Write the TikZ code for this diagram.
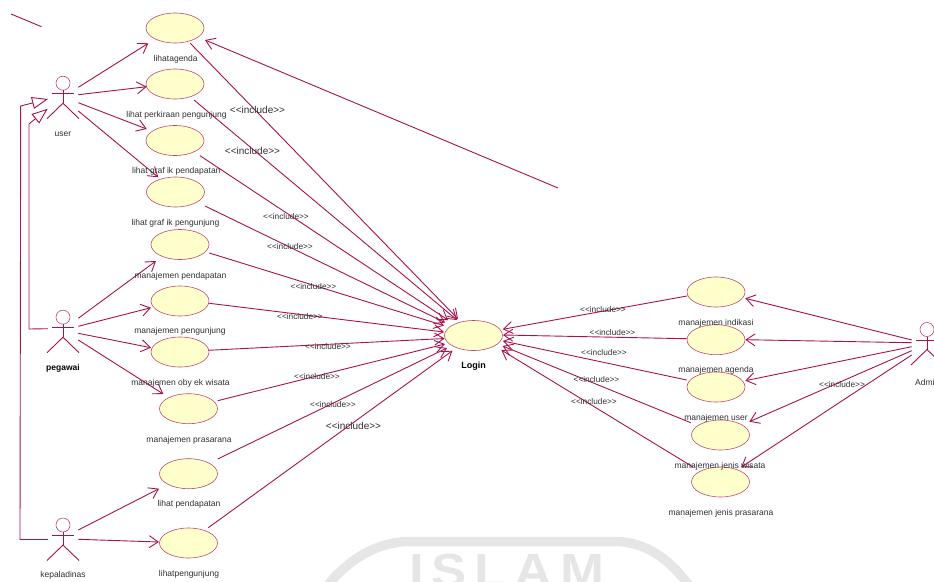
\documentclass[tikz,border=0pt]{standalone}
\usepackage{fontspec}
\setmainfont{Liberation Sans}
\usetikzlibrary{arrows.meta,shapes.geometric}
\definecolor{umlline}{HTML}{A8134C}
\definecolor{umledge}{HTML}{C4476E}
\definecolor{umlfill}{HTML}{FFFFCB}
\definecolor{umltext}{HTML}{303030}
\definecolor{wm}{HTML}{E6E6E6}
\tikzset{
  usecase/.style={ellipse,draw=umledge,fill=umlfill,line width=0.6pt,minimum width=58pt,minimum height=30pt,inner sep=0pt},
  actorpt/.style={inner sep=0pt,minimum size=0pt,outer sep=0pt},
  lbl/.style={text=umltext,font=\fontsize{8.5}{10}\selectfont,inner sep=0pt},
  lblb/.style={text=black,font=\fontsize{8.5}{10}\selectfont\bfseries,inner sep=0pt},
  inc/.style={text=umltext,font=\fontsize{8.3}{10}\selectfont,inner sep=0pt},
  incl/.style={text=umltext,font=\fontsize{10}{12}\selectfont,inner sep=0pt},
  assoc/.style={draw=umlline,line width=0.9pt,-{Straight Barb[length=9pt,width=12pt]}},
  gen/.style={draw=umlline,line width=0.9pt,-{Triangle[open,fill=white,length=16pt,width=12pt]}},
  plain/.style={draw=umlline,line width=0.9pt},
  actorline/.style={draw=umlline,line width=0.9pt},
  actorhead/.style={draw=umledge,line width=0.6pt}
}
\newcommand\lnk[7]{\draw[#1] ([shift={(#3,#4)}]#2.center) -- ([shift={(#6,#7)}]#5.center);}
\newcommand\figactor[3]{%
  \node[actorpt] (#1) at (#2,#3) {};
  \draw[actorhead] ([shift={(0,-10.5)}]#1.center) circle[radius=7pt];
  \draw[actorline] ([shift={(-11,0)}]#1.center) -- ([shift={(11,0)}]#1.center);
  \draw[actorline] ([shift={(0,-3.5)}]#1.center) -- ([shift={(0,9.5)}]#1.center);
  \draw[actorline] ([shift={(-16,25)}]#1.center) -- ([shift={(0,9.5)}]#1.center) -- ([shift={(16,25)}]#1.center);
}
\begin{document}
\begin{tikzpicture}[x=1pt,y=-1pt]
\useasboundingbox (0,0) rectangle (934,581);
% watermark
\draw[wm,line width=9.5pt] (324,590) .. controls (345,562) and (375,541.5) .. (410,541.5) -- (615,541.5) .. controls (650,541.5) and (675,565) .. (692,590);
\node[text=wm,font=\fontsize{48}{54}\selectfont\bfseries\addfontfeature{LetterSpace=15},anchor=base,inner sep=0pt,xscale=1.1] (wmark) at (507,587.5) {ISLAM};
% use cases
\node[usecase] (uc1) at (175,28) {};
\node[usecase] (uc2) at (175,84) {};
\node[usecase] (uc3) at (175,140.5) {};
\node[usecase] (uc4) at (175.5,192) {};
\node[usecase] (uc5) at (180,244.5) {};
\node[usecase] (uc6) at (180,301) {};
\node[usecase] (uc7) at (180,352) {};
\node[usecase] (uc8) at (188.5,408.7) {};
\node[usecase] (uc9) at (188.5,473.7) {};
\node[usecase] (uc10) at (188.5,543) {};
\node[usecase] (login) at (473.5,335.5) {};
\node[usecase] (ur1) at (716,292) {};
\node[usecase] (ur2) at (716,339.7) {};
\node[usecase] (ur3) at (716,387) {};
\node[usecase] (ur4) at (720.5,435) {};
\node[usecase] (ur5) at (720.5,482) {};
% actors
\figactor{user}{63}{93.7}
\figactor{pegawai}{63}{327.7}
\figactor{kepala}{63}{535.5}
\figactor{admin}{927}{340}
% free ends
\coordinate (far) at (558,188);
\coordinate (strayA) at (11,14);
\coordinate (strayB) at (41.5,26.7);
\coordinate (bendP) at (29,329);
\coordinate (bendPt) at (29,124);
\coordinate (bendK) at (20,539.5);
\coordinate (bendKt) at (20.7,106);
\draw[plain] (strayA) -- (strayB);
\draw[assoc] (far) -- ([shift={(30,12)}]uc1.center);
% generalisations
\draw[gen] ([shift={(-15,1)}]pegawai.center) -- (bendP) -- (bendPt) -- ([shift={(-15.3,15)}]user.center);
\draw[gen] ([shift={(-15,4)}]kepala.center) -- (bendK) -- (bendKt) -- ([shift={(-15,5.3)}]user.center);
% actor associations
\lnk{assoc}{user}{15.3}{-6.4}{uc1}{-26.7}{15.3}
\lnk{assoc}{user}{15.3}{1}{uc2}{-28.3}{2.7}
\lnk{assoc}{user}{15.3}{9}{uc3}{-28.3}{-11.5}
\lnk{assoc}{user}{15.3}{17.3}{uc4}{-17.2}{-14.7}
\lnk{assoc}{pegawai}{15.3}{-9.4}{uc5}{-24}{16.5}
\lnk{assoc}{pegawai}{15.3}{-1.4}{uc6}{-29}{6.7}
\lnk{assoc}{pegawai}{15.3}{5.6}{uc7}{-29}{-4.3}
\lnk{assoc}{pegawai}{15.3}{12.3}{uc8}{-25.2}{-14.7}
\lnk{assoc}{kepala}{15.3}{-5.5}{uc9}{-29.5}{15}
\lnk{assoc}{kepala}{15.3}{3.8}{uc10}{-29.5}{-1}
\lnk{assoc}{admin}{-15.3}{0}{ur1}{29.3}{6.3}
\lnk{assoc}{admin}{-15.3}{2.7}{ur2}{29.3}{0}
\lnk{assoc}{admin}{-15.3}{6.7}{ur3}{29.3}{-6.3}
\lnk{assoc}{admin}{-15.3}{10.7}{ur4}{28.8}{-13.3}
\lnk{assoc}{admin}{-15.3}{15}{ur5}{20.5}{-14.7}
% includes
\lnk{assoc}{uc1}{15.3}{15.3}{login}{-15.5}{-16.5}
\lnk{assoc}{uc2}{19}{16}{login}{-16.5}{-15.5}
\lnk{assoc}{uc3}{25}{15.2}{login}{-25.5}{-15.5}
\lnk{assoc}{uc4}{29.5}{14}{login}{-28.5}{-13}
\lnk{assoc}{uc5}{29.3}{8.5}{login}{-29.5}{-9.9}
\lnk{assoc}{uc6}{29.3}{2.3}{login}{-29.5}{-3.5}
\lnk{assoc}{uc7}{28.3}{-1.7}{login}{-29}{3}
\lnk{assoc}{uc8}{29.2}{-8}{login}{-28.5}{8.5}
\lnk{assoc}{uc9}{29.2}{-14.7}{login}{-26.5}{12.5}
\lnk{assoc}{uc10}{19.8}{-15.3}{login}{-21}{15.2}
\lnk{assoc}{ur1}{-29}{4}{login}{29.2}{-6.2}
\lnk{assoc}{ur2}{-29.3}{-1}{login}{29.5}{-0.5}
\lnk{assoc}{ur3}{-29.3}{-7}{login}{29.5}{5.5}
\lnk{assoc}{ur4}{-29.8}{-12.3}{login}{29.2}{10.5}
\lnk{assoc}{ur5}{-27.5}{-15}{login}{27.8}{14.5}
% labels
\node[lbl] (t1) at (175.7,59) {lihatagenda};
\node[lbl] (t2) at (176.5,115.3) {lihat perkiraan pengunjung};
\node[lbl] (t3) at (176.3,171) {lihat graf ik pendapatan};
\node[lbl] (t4) at (175.5,223) {lihat graf ik pengunjung};
\node[lbl] (t5) at (180.5,276) {manajemen pendapatan};
\node[lbl] (t6) at (180,331) {manajemen pengunjung};
\node[lbl] (t7) at (180.5,383) {manajemen oby ek wisata};
\node[lbl] (t8) at (189,440) {manajemen prasarana};
\node[lbl] (t9) at (189,504) {lihat pendapatan};
\node[lbl] (t10) at (189,574) {lihatpengunjung};
\node[lbl] (a1) at (63,134) {user};
\node[lblb] (a2) at (63,368) {pegawai};
\node[lbl] (a3) at (63,575) {kepaladinas};
\node[lbl,anchor=west] (a4) at (915,382) {Admin};
\node[lblb,font=\fontsize{9}{11}\selectfont\bfseries] (t11) at (473.5,366) {Login};
\node[lbl] (r1) at (716,323) {manajemen indikasi};
\node[lbl] (r2) at (716,370) {manajemen agenda};
\node[lbl] (r3) at (716,418) {manajemen user};
\node[lbl] (r4) at (720,466) {manajemen jenis wisata};
\node[lbl] (r5) at (721,513) {manajemen jenis prasarana};
% stereotypes
\node[incl] (i1) at (257.5,110) {<{}<include>{}>};
\node[incl] (i2) at (252.5,151) {<{}<include>{}>};
\node[incl] (i3) at (353.5,426) {<{}<include>{}>};
\node[inc] (i4) at (286,216.5) {<{}<include>{}>};
\node[inc] (i5) at (290,246.5) {<{}<include>{}>};
\node[inc] (i6) at (313.5,286.5) {<{}<include>{}>};
\node[inc] (i7) at (300,317) {<{}<include>{}>};
\node[inc] (i8) at (328,347) {<{}<include>{}>};
\node[inc] (i9) at (317,377) {<{}<include>{}>};
\node[inc] (i10) at (333,404.5) {<{}<include>{}>};
\node[inc] (i11) at (603,309.5) {<{}<include>{}>};
\node[inc] (i12) at (612.5,333) {<{}<include>{}>};
\node[inc] (i13) at (604,352.5) {<{}<include>{}>};
\node[inc] (i14) at (596.5,379.5) {<{}<include>{}>};
\node[inc] (i15) at (594,402) {<{}<include>{}>};
\node[inc] (i16) at (842,385) {<{}<include>{}>};
\end{tikzpicture}
\end{document}
